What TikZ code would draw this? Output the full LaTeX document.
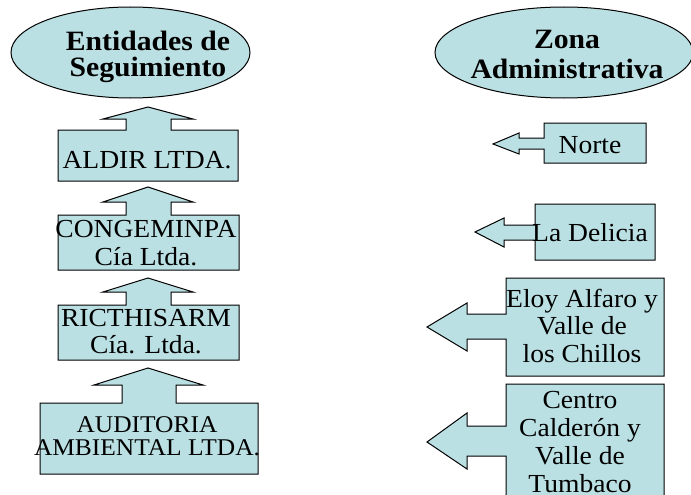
\documentclass[tikz,border=0pt]{standalone}
\usepackage{fontspec}
\setmainfont{Liberation Serif}[FakeStretch=1.06]
\usetikzlibrary{shapes.geometric}
\definecolor{fillblue}{HTML}{BBE0E3}
\begin{document}
\begin{tikzpicture}[x=1pt,y=-1pt,
  shapebox/.style={draw=black, fill=fillblue, line width=1pt, line join=miter},
  oval/.style={shapebox, ellipse, inner sep=0pt},
  lbl/.style={font=\fontsize{26}{27.5}\selectfont, align=center, inner sep=0pt, anchor=base},
  ttl/.style={font=\fontsize{28}{26}\selectfont\bfseries, align=center, inner sep=0pt, anchor=base}]
\useasboundingbox (0,0) rectangle (691,495);
\clip (0,0) rectangle (691,495);
% title ellipses
\node[oval, minimum width=239pt, minimum height=91pt] (ovalL) at (130.5,52.5) {};
\node[oval, minimum width=258pt, minimum height=91pt] (ovalR) at (564,52.5) {};
\node[ttl] (titleL) at (148,77) {Entidades de\\Seguimiento};
\node[ttl, font=\fontsize{28}{30}\selectfont\bfseries] (titleR) at (567,78) {Zona\\Administrativa};
% left up-arrow callouts
\draw[shapebox] (58,181) -- (58,130) -- (126,130) -- (126,119) -- (103,119) -- (148,107)
  -- (193,119) -- (171,119) -- (171,130) -- (238,130) -- (238,181) -- cycle;
\draw[shapebox] (58,270) -- (58,215) -- (126,215) -- (126,202) -- (103,202) -- (148,187)
  -- (193,202) -- (171,202) -- (171,215) -- (239,215) -- (239,270) -- cycle;
\draw[shapebox] (58,360) -- (58,305) -- (126,305) -- (126,292) -- (103,292) -- (148,278)
  -- (193,292) -- (171,292) -- (171,305) -- (239,305) -- (239,360) -- cycle;
\draw[shapebox] (40,474) -- (40,403) -- (122,403) -- (122,385) -- (94,385) -- (148,368)
  -- (203,385) -- (176,385) -- (176,403) -- (258,403) -- (258,474) -- cycle;
\node[lbl] (aldir) at (147,168) {ALDIR LTDA.};
\node[lbl, font=\fontsize{26}{28}\selectfont] (congem) at (146,265) {CONGEMINPA\\Cía Ltda.};
\node[lbl, font=\fontsize{26}{26.5}\selectfont] (ricth) at (146,353) {RICTHISARM\\Cía. Ltda.};
\node[lbl, font=\fontsize{24}{23}\selectfont] (audit) at (147,455) {AUDITORIA\\AMBIENTAL LTDA.};
% right left-arrow callouts
\draw[shapebox] (646,123) -- (544,123) -- (544,138) -- (519,138) -- (519,133) -- (493,144)
  -- (519,154) -- (519,149) -- (544,149) -- (544,163) -- (646,163) -- cycle;
\draw[shapebox] (655,204) -- (535,204) -- (535,225) -- (504,225) -- (504,218) -- (475,232)
  -- (504,247) -- (504,240) -- (535,240) -- (535,260) -- (655,260) -- cycle;
\draw[shapebox] (664,278) -- (506,278) -- (506,314) -- (467,314) -- (467,303) -- (427,327)
  -- (467,351) -- (467,339) -- (506,339) -- (506,376) -- (664,376) -- cycle;
\draw[shapebox] (664,384) -- (506,384) -- (506,426) -- (467,426) -- (467,413) -- (427,442)
  -- (467,469) -- (467,456) -- (506,456) -- (506,510) -- (664,510) -- cycle;
\node[lbl] (norte) at (590,153) {Norte};
\node[lbl] (delicia) at (590,241) {La Delicia};
\node[lbl] (eloy) at (582,362) {Eloy Alfaro y\\Valle de\\los Chillos};
\node[lbl, font=\fontsize{26}{28}\selectfont] (centro) at (580,492) {Centro\\Calderón y\\Valle de\\Tumbaco};
\end{tikzpicture}
\end{document}
